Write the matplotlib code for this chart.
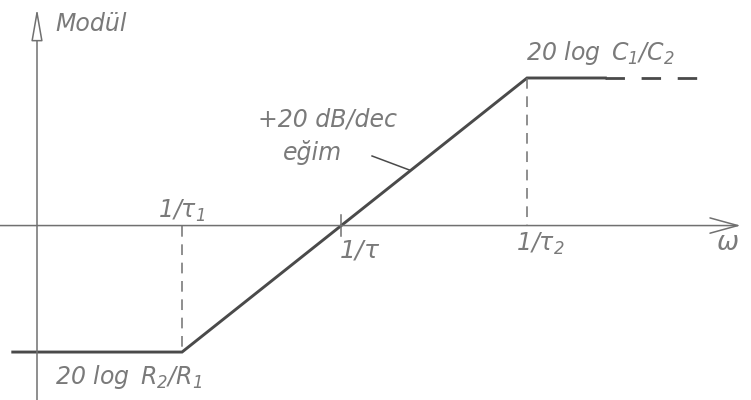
import numpy as np
import matplotlib
matplotlib.use("Agg")
import matplotlib.pyplot as plt

plt.rcParams["font.family"] = ["DejaVu Sans"]
plt.rcParams["mathtext.fontset"] = "custom"
plt.rcParams["mathtext.rm"] = "DejaVu Sans:italic"
plt.rcParams["mathtext.it"] = "DejaVu Sans:italic"

# corner frequencies (rad/s) and asymptote levels (dB)
w1 = 1.0            # 1/tau1
w_tau = 10 ** 1.2   # 1/tau, 0 dB crossing
w2 = 10 ** 2.6      # 1/tau2
low_db = -24.0      # 20 log R2/R1
high_db = 28.0      # 20 log C1/C2

# asymptotic magnitude curve
curve_w = [0.053, w1, w2, 1550.0]
curve_db = [low_db, low_db, high_db, high_db]
ext_w = [1550.0, 8300.0]          # dashed continuation of the upper level
ext_db = [high_db, high_db]

y_axis_w = 0.0807
xlim = (10 ** -1.372, 10 ** 4.288)
ylim = (-33.1, 42.8)

AX_C = "#707070"
LINE_C = "#4a4a4a"
TXT_C = "#7a7a7a"

fig = plt.figure(figsize=(7.51, 4.0), dpi=100)
ax = fig.add_axes([0, 0, 1, 1])
ax.set_xscale("log")
ax.set_xlim(*xlim)
ax.set_ylim(*ylim)
ax.axis("off")

# omega axis with open arrow head
ax.annotate("", xy=(10 ** 4.21, 0), xytext=(xlim[0], 0),
            arrowprops=dict(arrowstyle="->,head_length=2.0,head_width=0.55",
                            color=AX_C, lw=1.1, shrinkA=0, shrinkB=0))
# magnitude axis with hollow triangular head
ax.annotate("", xy=(y_axis_w, 41.2), xytext=(y_axis_w, ylim[0]),
            arrowprops=dict(arrowstyle="-|>,head_length=2.0,head_width=0.35",
                            ec=AX_C, fc="white", lw=1.1, shrinkA=0, shrinkB=0))

# asymptotes
ax.plot(curve_w, curve_db, color=LINE_C, lw=2.1, solid_joinstyle="miter")
ax.plot(ext_w, ext_db, color=LINE_C, lw=2.0, dashes=(7, 6))

# dashed drop lines at the corner frequencies
ax.plot([w1, w1], [0, low_db], color=AX_C, lw=1.1, dashes=(7, 5))
ax.plot([w2, w2], [high_db, 0], color=AX_C, lw=1.1, dashes=(7, 5))
ax.plot([w_tau, w_tau], [2.0, -2.0], color=AX_C, lw=1.1)

fs = 17
ax.text(10 ** -0.957, 38.2, "Modül", color=TXT_C, fontsize=fs,
        style="italic", ha="left", va="center")
ax.text(w1, 1.5, r"$1/\tau_1$", color=TXT_C, fontsize=fs,
        ha="center", va="baseline")
ax.text(w_tau * 10 ** 0.14, -2.4, r"$1/\tau$", color=TXT_C, fontsize=fs + 1,
        ha="center", va="top")
ax.text(w2 * 10 ** 0.1, -1.0, r"$1/\tau_2$", color=TXT_C, fontsize=fs,
        ha="center", va="top")
ax.text(10 ** 4.11, -3.3, r"$\omega$", color=TXT_C, fontsize=fs + 2,
        ha="center", va="center")
ax.text(10 ** 3.15, 31.4, r"$20\ \log\ C_1/C_2$", color=TXT_C, fontsize=fs,
        ha="center", va="baseline")
ax.text(10 ** -0.957, -26.1, r"$20\ \log\ R_2/R_1$", color=TXT_C,
        fontsize=fs, ha="left", va="top")
ax.text(10 ** 1.1, 20.2, "+20 dB/dec", color=TXT_C, fontsize=fs,
        style="italic", ha="center", va="center")
ax.text(10 ** 0.98, 13.9, "eğim", color=TXT_C, fontsize=fs,
        style="italic", ha="center", va="center")
ax.plot([10 ** 1.432, 10 ** 1.718], [13.2, 10.5], color=LINE_C, lw=1.1)

fig.savefig("out.png", dpi=100, facecolor="white")
